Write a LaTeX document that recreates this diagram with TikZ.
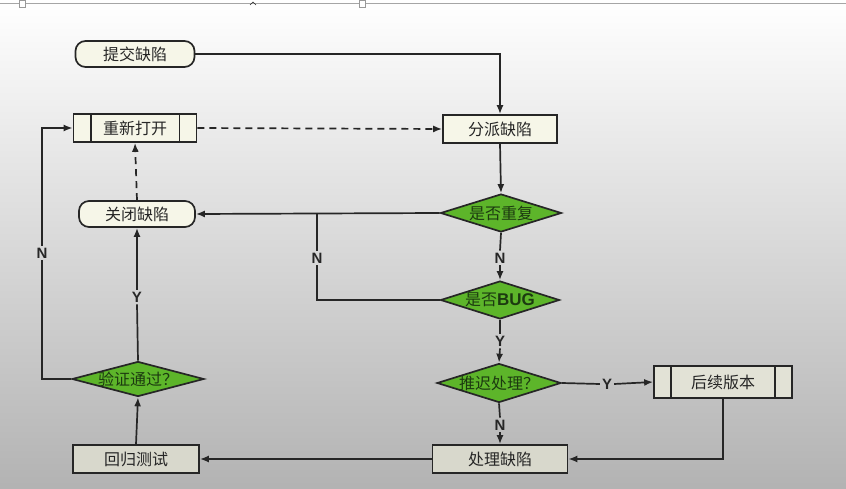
\documentclass[tikz,border=0pt]{standalone}
\usepackage{fontspec}
\newfontfamily\cjk{Noto Sans CJK SC}
\newfontfamily\lab{Liberation Sans}
\usetikzlibrary{shapes.geometric,arrows.meta}
\definecolor{creamA}{HTML}{F6F6E8}
\definecolor{creamB}{HTML}{E2E2D6}
\definecolor{creamC}{HTML}{D8D8CC}
\definecolor{dgreen}{HTML}{5DB52A}
\definecolor{ink}{HTML}{262626}
\definecolor{gtext}{HTML}{1C3A10}
\begin{document}
\begin{tikzpicture}[x=1pt,y=-1pt,
  base/.style={draw=ink, line width=1.7pt, text=ink, inner sep=0pt,
    font=\cjk\fontsize{16}{16}\selectfont},
  term/.style={base, rounded corners=10pt, fill=creamA, minimum height=26pt},
  proc/.style={base, rectangle, minimum height=28pt},
  dec/.style={draw=ink, line width=1.7pt, inner sep=0pt, diamond, fill=dgreen},
  dlbl/.style={text=gtext, inner sep=0pt, font=\cjk\fontsize{16}{16}\selectfont},
  conn/.style={line width=1.7pt, draw=ink, -{Latex[length=9pt,width=7pt]}},
  plain/.style={line width=1.7pt, draw=ink},
  dconn/.style={conn, dashed, dash pattern=on 7pt off 5pt},
  lbl/.style={font=\lab\bfseries\fontsize{15}{15}\selectfont, text=ink, inner sep=2pt}
]
\useasboundingbox (0,0) rectangle (846,489);
\shade[top color=white, middle color=white!93!black, bottom color=white!70!black] (0,0) rectangle (846,489);
% top frame artefact
\draw[gray!70, line width=0.8pt] (0,3) -- (846,3);
\draw[gray!80, fill=white, line width=0.5pt] (19,0) rectangle (25,7);
\draw[gray!80, fill=white, line width=0.5pt] (359,0) rectangle (365,7);
\draw[ink, line width=0.6pt] (250,5) -- (253,2) -- (256,5);

% nodes
\node[term, minimum width=119pt] (submit) at (135,54) {提交缺陷};
\node[proc, fill=creamA, minimum width=123pt] (reopen) at (135,128) {重新打开};
\node[proc, fill=creamA, minimum width=114pt] (assign) at (500,129) {分派缺陷};
\node[dec, minimum width=121pt, minimum height=38pt,
  label={[dlbl]center:是否重复}] (dup) at (501,213) {};
\node[term, minimum width=116pt] (close) at (137,214) {关闭缺陷};
\node[dec, minimum width=119pt, minimum height=38pt,
  label={[dlbl]center:是否{\lab\bfseries\fontsize{17}{17}\selectfont BUG}}] (bug) at (500,300) {};
\node[dec, minimum width=132pt, minimum height=35pt,
  label={[dlbl]center:验证通过？}] (verify) at (138,379) {};
\node[dec, minimum width=124pt, minimum height=39pt,
  label={[dlbl]center:推迟处理？}] (defer) at (499,383) {};
\node[proc, fill=creamB, minimum width=138pt, minimum height=32pt] (later) at (723,382) {后续版本};
\node[proc, fill=creamC, minimum width=126pt] (regress) at (136,459) {回归测试};
\node[proc, fill=creamC, minimum width=135pt] (handle) at (500,459) {处理缺陷};

% side bars of the predefined-process boxes
\draw[plain] ([xshift=18pt]reopen.north west) -- ([xshift=18pt]reopen.south west);
\draw[plain] ([xshift=-18pt]reopen.north east) -- ([xshift=-18pt]reopen.south east);
\draw[plain] ([xshift=18pt]later.north west) -- ([xshift=18pt]later.south west);
\draw[plain] ([xshift=-18pt]later.north east) -- ([xshift=-18pt]later.south east);

% labels
\node[lbl] (nA) at (317,258) {N};
\node[lbl] (nB) at (500,258) {N};
\node[lbl] (yB) at (500,341) {Y};
\node[lbl] (yD) at (607,384) {Y};
\node[lbl] (nD) at (500,425) {N};
\node[lbl] (yV) at (137,297) {Y};
\node[lbl] (nV) at (42,253) {N};
\coordinate (j) at (317,213);

% connectors
\draw[conn] (submit.east) -| (assign.north);
\draw[dconn] (reopen.east) -- (assign.west);
\draw[dconn] (close.north) -- (reopen.south);
\draw[conn] (assign.south) -- (dup.north);
\draw[conn] (dup.west) -- (close.east);
\draw[plain] (j) -- (nA.north);
\draw[plain] (nA.south) |- (bug.west);
\draw[plain] (dup.south) -- (nB.north);
\draw[conn] (nB.south) -- (bug.north);
\draw[plain] (bug.south) -- (yB.north);
\draw[conn] (yB.south) -- (defer.north);
\draw[plain] (defer.east) -- (yD.west);
\draw[conn] (yD.east) -- (later.west);
\draw[plain] (defer.south) -- (nD.north);
\draw[conn] (nD.south) -- (handle.north);
\draw[conn] (later.south) |- (handle.east);
\draw[conn] (handle.west) -- (regress.east);
\draw[conn] (regress.north) -- (verify.south);
\draw[plain] (verify.north) -- (yV.south);
\draw[conn] (yV.north) -- (close.south);
\draw[plain] (verify.west) -| (nV.south);
\draw[conn] (nV.north) |- (reopen.west);
\end{tikzpicture}
\end{document}
